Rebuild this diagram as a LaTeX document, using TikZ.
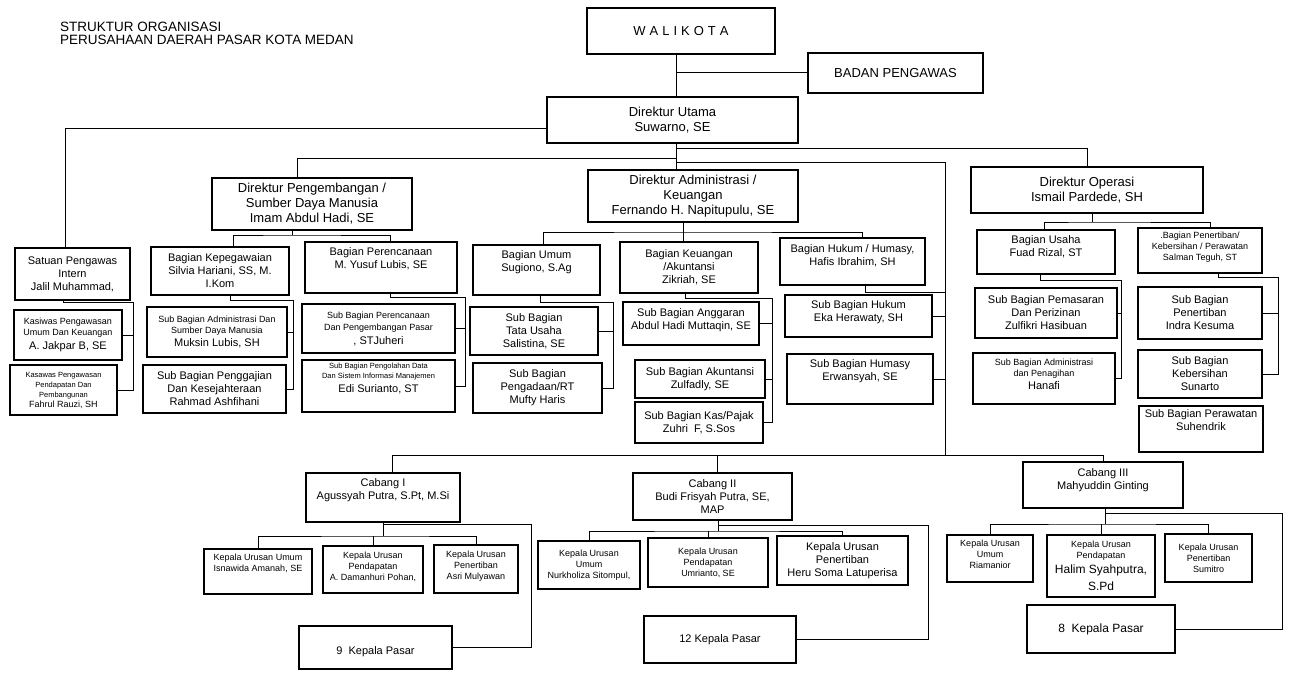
\documentclass[tikz,border=0pt]{standalone}
\usepackage{fontspec}
\setmainfont{Liberation Sans}
\newcommand{\fbig}{\fontsize{13}{15}\selectfont}
\newcommand{\fmid}{\fontsize{11}{13}\selectfont}
\newcommand{\fsmall}{\fontsize{9}{11}\selectfont}
\newcommand{\ftiny}{\fontsize{7.5}{8.5}\selectfont}

\begin{document}
\begin{tikzpicture}[x=1pt, y=-1pt,
    box/.style={draw, line width=1.1pt, align=center, inner sep=1pt, font=\fmid},
    headbox/.style={box, line width=2.4pt, font=\fbig},
    wh/.style 2 args={minimum width=#1pt, minimum height=#2pt},
    raised/.style={text depth=#1},
    link/.style={line width=1pt}
  ]
    \useasboundingbox (0,0) rectangle (1290,672);

    \node[anchor=north west, align=left, inner sep=0pt, font=\fontsize{13.5}{12.5}\selectfont] (title) at (60,22) {STRUKTUR ORGANISASI\\PERUSAHAAN DAERAH PASAR KOTA MEDAN};

    \node[box, font=\fbig, wh={188}{46}] (walikota) at (681,31) {W\kern4pt A\kern4pt L\kern4pt I\kern4pt K\kern4pt O\kern4pt T\kern4pt A};
    \node[box, font=\fbig, wh={175}{40}] (pengawas) at (895.5,73) {BADAN PENGAWAS};
    \node[headbox, wh={251}{46}] (dirut) at (672.5,120) {Direktur Utama\\Suwarno, SE};
    \node[headbox, wh={200}{52}] (dirdev) at (312,204) {Direktur Pengembangan /\\Sumber Daya Manusia\\Imam Abdul Hadi, SE};
    \node[headbox, wh={210}{52}] (diradm) at (693,196) {Direktur Administrasi /\\Keuangan\\Fernando H. Napitupulu, SE};
    \node[headbox, wh={232}{46}] (dirops) at (1087,190) {Direktur Operasi\\Ismail Pardede, SH};

    % pengawas intern
    \node[box, wh={115}{52}] (spi) at (72.5,274) {Satuan Pengawas\\Intern\\Jalil Muhammad,};
    \node[box, wh={108}{50}, font=\fsmall] (kasum) at (68,335) {Kasiwas Pengawasan\\Umum Dan Keuangan\\[2.5pt]\fmid A. Jakpar B, SE};
    \node[box, wh={107}{50}, font=\ftiny] (kaspend) at (63.5,390) {Kasawas Pengawasan\\[1.5pt]Pendapatan Dan\\[1.5pt]Pembangunan\\[1.5pt]\fsmall Fahrul Rauzi, SH};

    % bagian di bawah direktur pengembangan
    \node[box, wh={138}{48}] (kepeg) at (220,271) {Bagian Kepegawaian\\Silvia Hariani, SS, M.\\I.Kom};
    \node[box, wh={140}{50}, font=\fsmall] (sbsdm) at (217,332) {Sub Bagian Administrasi Dan\\Sumber Daya Manusia\\[2.5pt]\fmid Muksin Lubis, SH};
    \node[box, wh={143}{48}] (sbgaji) at (214.5,389) {Sub Bagian Penggajian\\Dan Kesejahteraan\\Rahmad Ashfihani};
    \node[box, wh={152}{51}, raised=18pt] (renc) at (381,267.5) {Bagian Perencanaan\\M. Yusuf Lubis, SE};
    \node[box, wh={153}{49}, font=\fsmall] (sbrenc) at (378.5,328.5) {Sub Bagian Perencanaan\\[1pt]Dan Pengembangan Pasar\\[3pt]\fmid , STJuheri};
    \node[box, wh={153}{52}, font=\ftiny, raised=16pt] (sbsim) at (378.5,386) {Sub Bagian Pengolahan Data\\[1.5pt]Dan Sistem Informasi Manajemen\\[3.5pt]\fmid Edi Surianto, ST};

    % bagian di bawah direktur administrasi
    \node[box, wh={127}{50}, raised=18pt] (umum) at (536.5,270) {Bagian Umum\\Sugiono, S.Ag};
    \node[box, wh={128}{48}] (sbtu) at (534,331) {Sub Bagian\\Tata Usaha\\Salistina, SE};
    \node[box, wh={129}{50}] (sbrt) at (537.5,388) {Sub Bagian\\Pengadaan/RT\\Mufty Haris};
    \node[box, wh={138}{51}] (keu) at (689,267.5) {Bagian Keuangan\\/Akuntansi\\Zikriah, SE};
    \node[box, wh={136}{43}, raised=9pt] (sbangg) at (691,323.5) {Sub Bagian Anggaran\\Abdul Hadi Muttaqin, SE};
    \node[box, wh={130}{38}] (sbakun) at (700,379) {Sub Bagian Akuntansi\\Zulfadly, SE};
    \node[box, wh={128}{41}] (sbkas) at (699,422.5) {Sub Bagian Kas/Pajak\\Zuhri~ F, S.Sos};
    \node[box, wh={145}{47}, raised=12pt] (hukum) at (852.5,261.5) {Bagian Hukum / Humasy,\\Hafis Ibrahim, SH};
    \node[box, wh={147}{42}, raised=10pt] (sbhukum) at (858.5,316) {Sub Bagian Hukum\\Eka Herawaty, SH};
    \node[box, wh={146}{50}, raised=18pt] (sbhumas) at (860,379) {Sub Bagian Humasy\\Erwansyah, SE};

    % bagian di bawah direktur operasi
    \node[box, wh={138}{44}, raised=12pt] (usaha) at (1046,252) {Bagian Usaha\\Fuad Rizal, ST};
    \node[box, wh={124}{45}, font=\fsmall, raised=9pt] (tertib) at (1200,250.5) {.Bagian Penertiban/\\Kebersihan / Perawatan\\Salman Teguh, ST};
    \node[box, wh={142}{50}] (sbpemas) at (1046,313) {Sub Bagian Pemasaran\\Dan Perizinan\\Zulfikri Hasibuan};
    \node[box, wh={142}{51}, font=\fsmall, raised=9pt] (sbtagih) at (1044,378.5) {Sub Bagian Administrasi\\dan Penagihan\\[2pt]\fmid Hanafi};
    \node[box, wh={124}{52}] (sbtertib) at (1200,313) {Sub Bagian\\Penertiban\\Indra Kesuma};
    \node[box, wh={124}{48}] (sbbersih) at (1200,374) {Sub Bagian\\Kebersihan\\Sunarto};
    \node[box, wh={124}{46}, raised=17pt] (sbrawat) at (1201,429) {Sub Bagian Perawatan\\Suhendrik};

    % cabang
    \node[box, wh={154}{49}, raised=17pt] (cab1) at (383,497.5) {Cabang I\\Agussyah Putra, S.Pt, M.Si};
    \node[box, wh={159}{47}] (cab2) at (712.5,496.5) {Cabang II\\Budi Frisyah Putra, SE,\\MAP};
    \node[box, wh={160}{46}, raised=12pt] (cab3) at (1103,485) {Cabang III\\Mahyuddin Ginting};

    \node[box, wh={108}{45}, font=\fsmall, raised=18pt] (ku1u) at (258,571.5) {Kepala Urusan Umum\\Isnawida Amanah, SE};
    \node[box, wh={100}{47}, font=\fsmall, raised=7pt] (ku1p) at (373,569.5) {Kepala Urusan\\Pendapatan\\A. Damanhuri Pohan,};
    \node[box, wh={84}{48}, font=\fsmall, raised=8pt] (ku1t) at (476,569) {Kepala Urusan\\Penertiban\\Asri Mulyawan};
    \node[box, wh={153}{43}, text height=16pt] (pasar1) at (375.5,647.5) {9~ Kepala Pasar};

    \node[box, wh={102}{48}, font=\fsmall] (ku2u) at (589,565) {Kepala Urusan\\Umum\\Nurkholiza Sitompul,};
    \node[box, wh={120}{49}, font=\fsmall] (ku2p) at (708,562.5) {Kepala Urusan\\Pendapatan\\Umrianto, SE};
    \node[box, wh={131}{49}] (ku2t) at (842.5,560.5) {Kepala Urusan\\Penertiban\\Heru Soma Latuperisa};
    \node[box, wh={152}{47}] (pasar2) at (720,639.5) {12 Kepala Pasar};

    \node[box, wh={86}{47}, font=\fsmall, raised=8pt] (ku3u) at (990,558.5) {Kepala Urusan\\Umum\\Riamanior};
    \node[box, wh={108}{62}, font=\fsmall] (ku3p) at (1101,566) {Kepala Urusan\\Pendapatan\\[4pt]\fontsize{12}{14}\selectfont Halim Syahputra,\\[5pt]\fontsize{12}{14}\selectfont S.Pd};
    \node[box, wh={87}{48}, font=\fsmall] (ku3t) at (1208.5,558) {Kepala Urusan\\Penertiban\\Sumitro};
    \node[box, wh={148}{48}, font=\fontsize{12}{14}\selectfont] (pasar3) at (1101,629) {8~ Kepala Pasar};

    % garis utama
    \coordinate (trunk) at (676,72);
    \draw[link] (walikota.south -| trunk) -- (dirut.north -| trunk);
    \draw[link] (trunk) -- (pengawas.west |- trunk);
    \coordinate (spiline) at (65,128);
    \draw[link] (dirut.west |- spiline) -| (spi.north -| spiline);
    \draw[link] (dirut.south -| trunk) -- (diradm.north -| trunk);
    \coordinate (devline) at (676,158);
    \draw[link] (devline) -| ([xshift=-15pt]dirdev.north);
    \coordinate (opsline) at (676,148);
    \draw[link] (opsline) -| (dirops.north);
    \coordinate (cabline) at (945,162);
    \coordinate (cabbus) at (945,455);
    \draw[link] (cabline -| trunk) -- (cabline) -- (cabbus);
    \draw[link] ([xshift=9pt]cab1.north) |- (cab3.north |- cabbus) -- (cab3.north);
    \draw[link] ([xshift=4.5pt]cab2.north) -- ([xshift=4.5pt]cab2.north |- cabbus);

    % direktur ke bagian
    \coordinate (devbus) at (292,235);
    \draw[link] (dirdev.south -| devbus) -- (devbus);
    \draw[link] ([xshift=13pt]kepeg.north) |- (devbus) -| ([xshift=9pt]renc.north);
    \coordinate (admbus) at (683,232);
    \draw[link] (diradm.south -| admbus) -- (admbus |- keu.north);
    \draw[link] ([xshift=6.5pt]umum.north) |- (admbus) -| ([xshift=9.5pt]hukum.north);
    \coordinate (opsbus) at (1092,222);
    \draw[link] (dirops.south -| opsbus) -- (opsbus);
    \draw[link] ([xshift=-2pt]usaha.north) |- (opsbus) -| ([xshift=10pt]tertib.north);

    % bagian ke sub bagian
    \coordinate (spiv) at (133,302);
    \draw[link] ([xshift=-9.5pt]spi.south) |- (spiv) |- (kaspend.east);
    \draw[link] (kasum.east) -- (kasum.east -| spiv);
    \coordinate (kepegv) at (293,300);
    \draw[link] ([xshift=10pt]kepeg.south) |- (kepegv) |- (sbgaji.east);
    \draw[link] (sbsdm.east) -- (sbsdm.east -| kepegv);
    \coordinate (rencv) at (465,297);
    \draw[link] ([xshift=9pt]renc.south) |- (rencv) |- (sbsim.east);
    \draw[link] (sbrenc.east) -- (sbrenc.east -| rencv);
    \coordinate (umumv) at (613,302);
    \draw[link] ([xshift=3.5pt]umum.south) |- (umumv) |- (sbrt.east);
    \draw[link] (sbtu.east) -- (sbtu.east -| umumv);
    \coordinate (keuv) at (772,298);
    \draw[link] ([xshift=-4pt]keu.south) |- (keuv) |- (sbkas.east);
    \draw[link] (sbangg.east) -- (sbangg.east -| keuv);
    \draw[link] (sbakun.east) -- (sbakun.east -| keuv);
    \coordinate (hukumv) at (945,292);
    \draw[link] ([xshift=12.5pt]hukum.south) |- (hukumv);
    \draw[link] (sbhukum.east) -- (sbhukum.east -| hukumv);
    \draw[link] (sbhumas.east) -- (sbhumas.east -| hukumv);
    \coordinate (usahav) at (1121,280);
    \draw[link] ([xshift=-6pt]usaha.south) |- (usahav) |- (sbtagih.east);
    \draw[link] (sbpemas.east) -- (sbpemas.east -| usahav);
    \coordinate (tertibv) at (1278,277);
    \draw[link] ([xshift=18pt]tertib.south) |- (tertibv) |- (sbbersih.east);
    \draw[link] (sbtertib.east) -- (sbtertib.east -| tertibv);

    % cabang ke kepala urusan dan pasar
    \coordinate (cab1bus) at (383,536);
    \draw[link] (cab1.south) -- (cab1bus);
    \draw[link] (ku1u.north) |- (cab1bus) -| (ku1t.north);
    \draw[link] (ku1p.north) -- (ku1p.north |- cab1bus);
    \coordinate (cab1v) at (531,524);
    \draw[link] (cab1bus |- cab1v) -- (cab1v) |- (pasar1.east);
    \coordinate (cab2bus) at (718,531);
    \draw[link] (cab2.south -| cab2bus) -- (cab2bus);
    \draw[link] (ku2u.north) |- (cab2bus) -| (ku2t.north);
    \draw[link] (ku2p.north) -- (ku2p.north |- cab2bus);
    \coordinate (cab2v) at (928,525);
    \draw[link] (cab2bus |- cab2v) -- (cab2v) |- (pasar2.east);
    \coordinate (cab3bus) at (1105,524);
    \draw[link] (cab3.south -| cab3bus) -- (cab3bus);
    \draw[link] (ku3u.north) |- (cab3bus) -| (ku3t.north);
    \draw[link] (ku3p.north) -- (ku3p.north |- cab3bus);
    \coordinate (cab3v) at (1282,513);
    \draw[link] (cab3bus |- cab3v) -- (cab3v) |- (pasar3.east);
  \end{tikzpicture}
\end{document}
